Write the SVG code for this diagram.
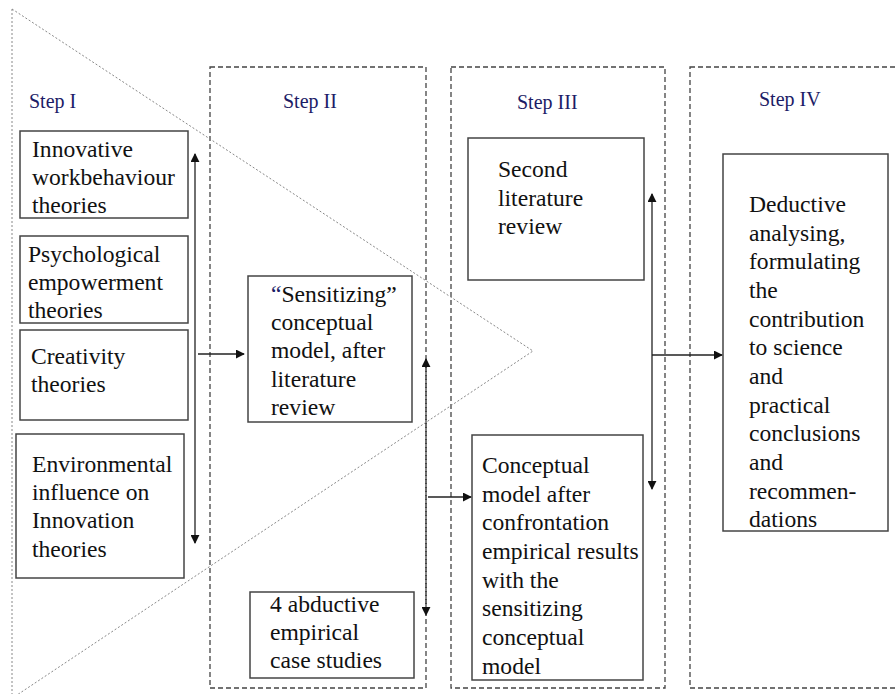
<svg xmlns="http://www.w3.org/2000/svg" width="895" height="694" viewBox="0 0 895 694">
<style>
.dash{fill:none;stroke:#444;stroke-width:1.3;stroke-dasharray:5,3}
.dot{fill:none;stroke:#888;stroke-width:1;stroke-dasharray:2,2}
.box{fill:#fff;stroke:#444;stroke-width:1.5}
text{font-family:'Liberation Serif','Times New Roman',Times,serif}
.t{font-size:23.6px;fill:#111}
.s{font-size:20px;fill:#1c1c66}
.ln{fill:none;stroke:#222;stroke-width:1.3}
.dl{fill:none;stroke:#222;stroke-width:1.3;stroke-dasharray:5,3}
</style>
<defs>
<marker id="ah" viewBox="0 0 10 10" refX="9" refY="5" markerWidth="9" markerHeight="9" markerUnits="userSpaceOnUse" orient="auto-start-reverse">
<path d="M0,0 L10,5 L0,10 z" fill="#111"/>
</marker>
</defs>
<rect width="895" height="694" fill="#fff"/>
<g id="steps">
<rect id="step2" class="dash" x="210" y="67" width="216" height="621"/>
<rect id="step3" class="dash" x="451" y="67" width="214" height="621"/>
<rect id="step4" class="dash" x="690" y="67" width="220" height="621"/>
<text class="s" x="29" y="108">Step I</text>
<text class="s" x="283" y="108">Step II</text>
<text class="s" x="517" y="109">Step III</text>
<text class="s" x="759" y="106">Step IV</text>
</g>
<g id="triangle">
<path class="dot" d="M12,9 L533,351 L14,697"/>
<line class="dot" x1="12" y1="9" x2="12" y2="694"/>
</g>
<g id="n1"><rect class="box" x="20" y="131" width="168" height="87"/>
<text class="t" x="32" y="157">Innovative</text><text class="t" x="32" y="185">workbehaviour</text><text class="t" x="32" y="213">theories</text></g>
<g id="n2"><rect class="box" x="20" y="236" width="168" height="87"/>
<text class="t" x="28" y="262">Psychological</text><text class="t" x="28" y="290">empowerment</text><text class="t" x="28" y="318">theories</text></g>
<g id="n3"><rect class="box" x="20" y="330" width="168" height="90"/>
<text class="t" x="31" y="364">Creativity</text><text class="t" x="31" y="392">theories</text></g>
<g id="n4"><rect class="box" x="16" y="434" width="168" height="144"/>
<text class="t" x="32" y="472">Environmental</text><text class="t" x="32" y="500">influence on</text><text class="t" x="32" y="528">Innovation</text><text class="t" x="32" y="557">theories</text></g>
<g id="n5"><rect class="box" x="248" y="276" width="164" height="146"/>
<text class="t" x="271" y="302"><tspan fill="#1c1c66">“</tspan>Sensitizing”</text><text class="t" x="271" y="330">conceptual</text><text class="t" x="271" y="358">model, after</text><text class="t" x="271" y="387">literature</text><text class="t" x="271" y="415">review</text></g>
<g id="n6"><rect class="box" x="250" y="592" width="164" height="86"/>
<text class="t" x="270" y="612">4 abductive</text><text class="t" x="270" y="640">empirical</text><text class="t" x="270" y="668">case studies</text></g>
<g id="n7"><rect class="box" x="468" y="138" width="176" height="142"/>
<text class="t" x="498" y="177">Second</text><text class="t" x="498" y="206">literature</text><text class="t" x="498" y="234">review</text></g>
<g id="n8"><rect class="box" x="472" y="435" width="171" height="245"/>
<text class="t" x="482" y="473">Conceptual</text><text class="t" x="482" y="502">model after</text><text class="t" x="482" y="530">confrontation</text><text class="t" x="482" y="559">empirical results</text><text class="t" x="482" y="588">with the</text><text class="t" x="482" y="616">sensitizing</text><text class="t" x="482" y="645">conceptual</text><text class="t" x="482" y="674">model</text></g>
<g id="n9"><rect class="box" x="723" y="154" width="165" height="377"/>
<text class="t" x="749" y="212">Deductive</text><text class="t" x="749" y="241">analysing,</text><text class="t" x="749" y="269">formulating</text><text class="t" x="749" y="298">the</text><text class="t" x="749" y="327">contribution</text><text class="t" x="749" y="355">to science</text><text class="t" x="749" y="384">and</text><text class="t" x="749" y="413">practical</text><text class="t" x="749" y="441">conclusions</text><text class="t" x="749" y="470">and</text><text class="t" x="749" y="499">recommen-</text><text class="t" x="749" y="527">dations</text></g>
<g id="connectors">
<line class="ln" x1="195" y1="154" x2="195" y2="543" marker-start="url(#ah)" marker-end="url(#ah)"/>
<line class="ln" x1="198" y1="354" x2="244" y2="354" marker-end="url(#ah)"/>
<line class="dl" x1="426" y1="359" x2="426" y2="615" marker-start="url(#ah)" marker-end="url(#ah)"/>
<line class="ln" x1="428" y1="497" x2="471" y2="497" marker-end="url(#ah)"/>
<line class="ln" x1="652" y1="194" x2="652" y2="489" marker-start="url(#ah)" marker-end="url(#ah)"/>
<line class="ln" x1="652" y1="355" x2="722" y2="355" marker-end="url(#ah)"/>
</g>
</svg>
